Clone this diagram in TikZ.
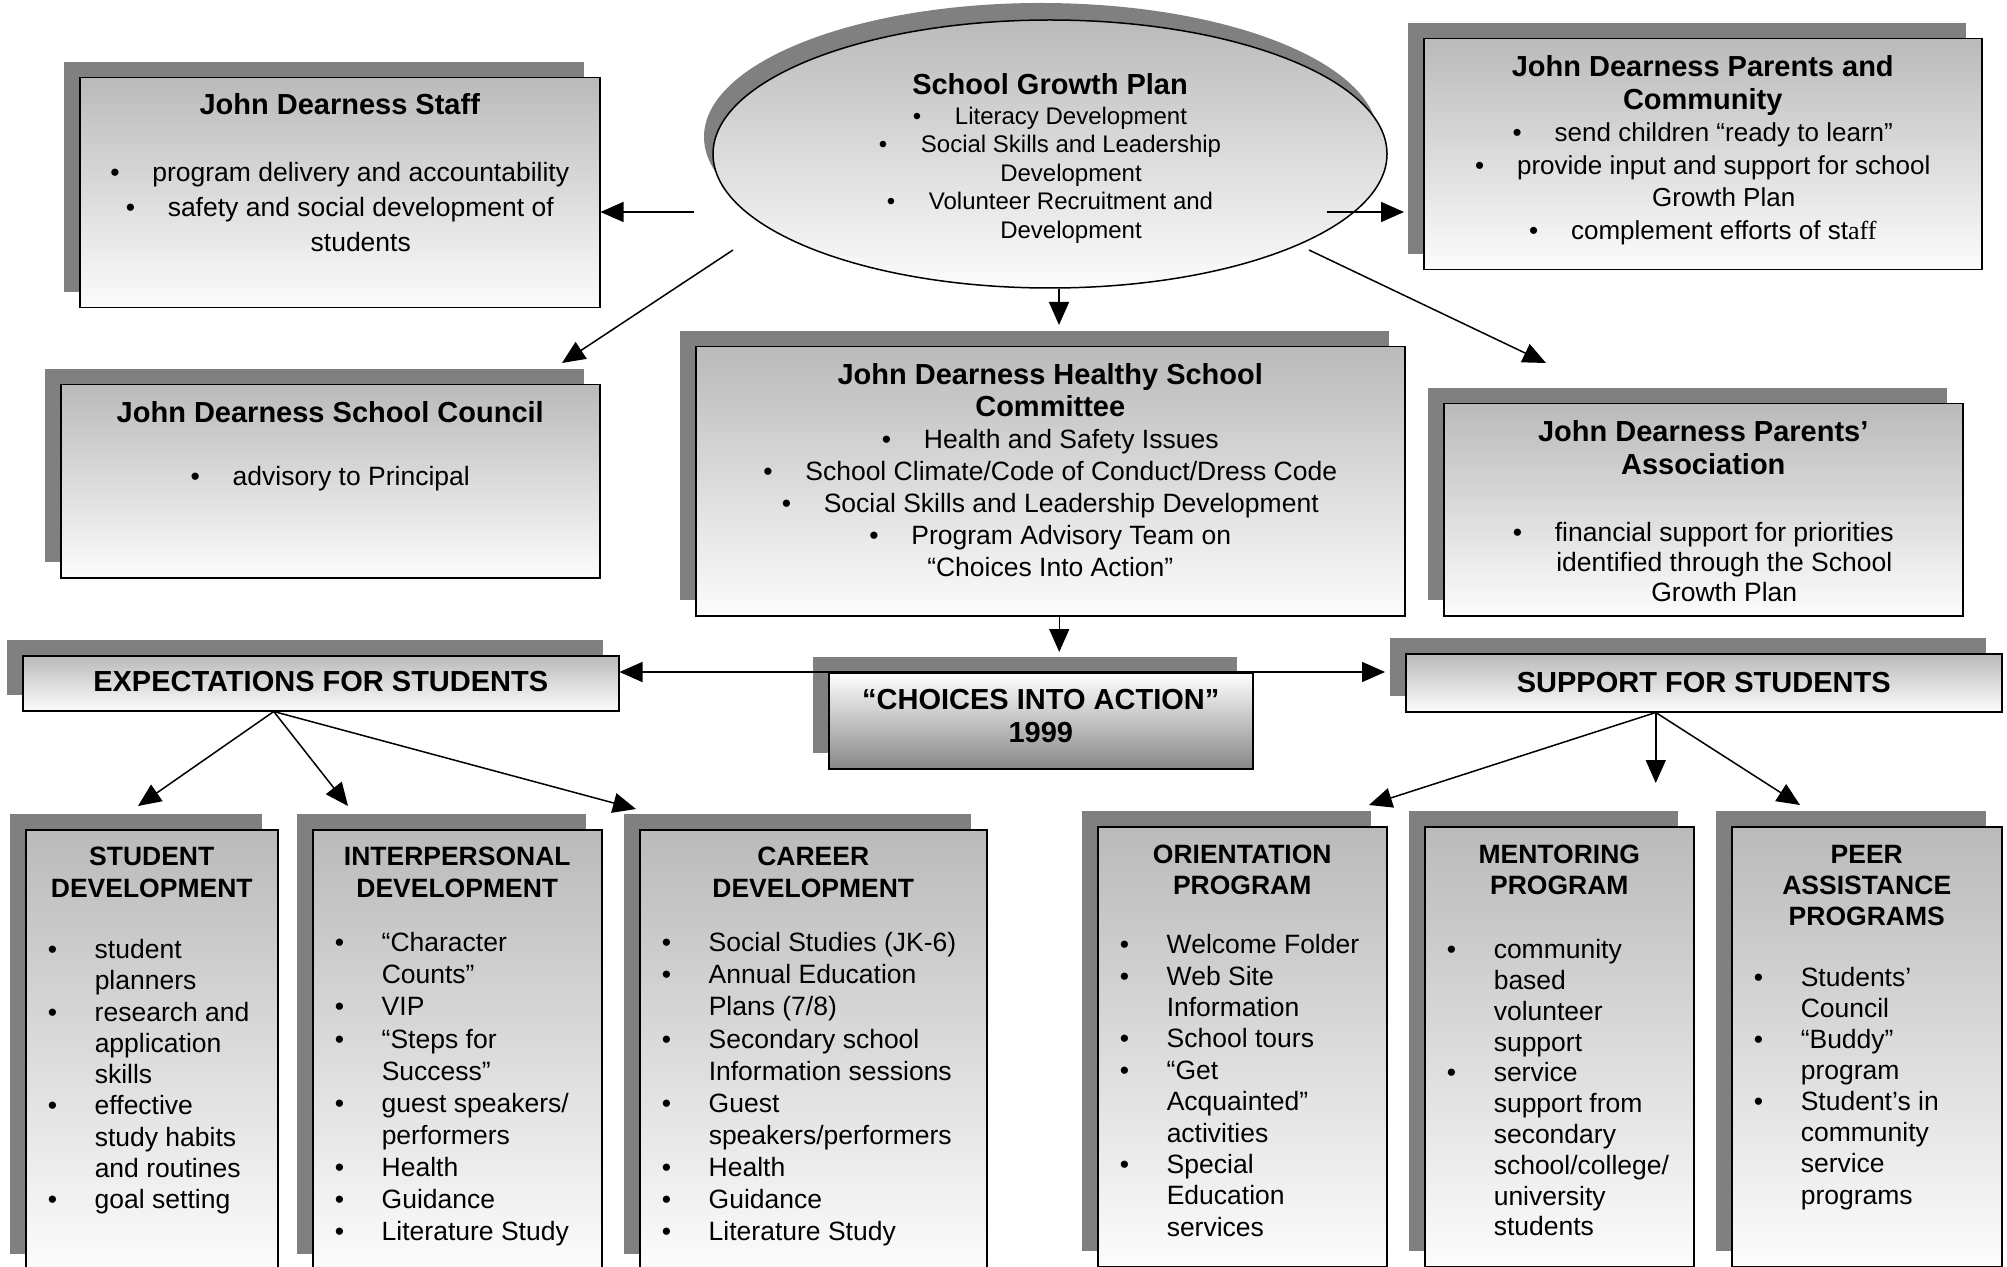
\documentclass[tikz,border=0pt]{standalone}
\usepackage{fontspec}
\setmainfont{Liberation Sans}
\newfontfamily\serifaff{Liberation Serif}
\usetikzlibrary{arrows.meta,shadows,shapes.geometric}
\definecolor{shadowgray}{RGB}{128,128,128}
\definecolor{boxtop}{RGB}{186,186,186}
\definecolor{boxbot}{RGB}{252,252,252}
\definecolor{ciabot}{RGB}{135,135,135}
\newcommand{\bul}{\makebox[21pt][l]{\textbullet}}
\newcommand{\cont}{\hspace*{21pt}}
\newcommand{\fs}[2]{\fontsize{#1}{#2}\selectfont}
\newcommand{\panelbody}[3]{\begin{minipage}[t][#2][t]{#1}\lineskip=0pt #3\end{minipage}}
\newcommand{\bitem}[1]{\par\noindent\hspace*{11pt}\makebox[23.5pt][l]{\textbullet}\begin{tabular}[t]{@{}l@{}}#1\end{tabular}\par}

\begin{document}
\begin{tikzpicture}[x=0.5pt, y=-0.5pt,
  panel/.style={draw=black, line width=0.75pt, inner sep=0pt, anchor=north west,
    top color=boxtop, bottom color=boxbot,
    general shadow={fill=shadowgray, shadow xshift=-8pt, shadow yshift=8pt}},
  ciapanel/.style={panel, top color=white, bottom color=ciabot},
  growth/.style={ellipse, draw=black, line width=0.75pt, inner sep=0pt,
    minimum width=337pt, minimum height=134pt, top color=boxtop, bottom color=boxbot,
    general shadow={fill=shadowgray, shadow xshift=-4.5pt, shadow yshift=8.5pt}},
  conn/.style={-{Triangle[length=11.5pt,width=10pt]}, line width=0.75pt}]
  \useasboundingbox (0,0) rectangle (2007,1267);

  \node[panel] (staff) at (79,77) {\panelbody{260pt}{115pt}{\centering\fs{13.25pt}{17.5pt}\vspace*{6.25pt}%
    {\fs{14.5pt}{17.5pt}\bfseries\strut John Dearness Staff}\\[16pt]
    \bul program delivery and accountability\\
    \bul safety and social development of\\
    \cont students\par}};

  \node[growth] (sgp) at (1050,154) {\panelbody{210pt}{90pt}{\centering\fs{12pt}{14.25pt}\vspace*{4.5pt}%
    {\fs{14.5pt}{14.25pt}\bfseries\strut School Growth Plan}\\[0.75pt]
    \bul Literacy Development\\
    \bul Social Skills and Leadership\\
    \cont Development\\
    \bul Volunteer Recruitment and\\
    \cont Development\par}};

  \node[panel] (pcom) at (1423,38) {\panelbody{279pt}{115.5pt}{\centering\fs{13pt}{16.25pt}\vspace*{7.6pt}%
    {\fs{14.5pt}{16.25pt}\bfseries\strut John Dearness Parents and\\Community}\\
    \bul send children “ready to learn”\\
    \bul provide input and support for school\\
    \cont Growth Plan\\
    \bul complement efforts of st{\serifaff aff}\par}};

  \node[panel] (council) at (60,384) {\panelbody{269.5pt}{96.5pt}{\centering\fs{13.25pt}{16.5pt}\vspace*{7.45pt}%
    {\fs{14.5pt}{16.5pt}\bfseries\strut John Dearness School Council}\\[15pt]
    \bul advisory to Principal\par}};

  \node[panel] (hsc) at (695,346) {\panelbody{354.5pt}{134.5pt}{\centering\fs{13.25pt}{16pt}\vspace*{7.8pt}%
    {\fs{14.5pt}{16pt}\bfseries\strut John Dearness Healthy School\\Committee}\\
    \bul Health and Safety Issues\\
    \bul School Climate/Code of Conduct/Dress Code\\
    \bul Social Skills and Leadership Development\\
    \bul Program Advisory Team on\\
    “Choices Into Action”\par}};

  \node[panel] (pa) at (1443,403) {\panelbody{259.5pt}{106pt}{\centering\fs{13.25pt}{15pt}\vspace*{8.5pt}%
    {\fs{14.5pt}{15pt}\bfseries\strut John Dearness Parents’\\[1.5pt]Association}\\[18.5pt]
    \bul financial support for priorities\\
    \cont identified through the School\\
    \cont Growth Plan\par}};

  \node[ciapanel] (cia) at (828,672) {\panelbody{212pt}{48pt}{\centering\fs{14.5pt}{16.5pt}\bfseries\vspace*{6.95pt}%
    \strut “CHOICES INTO ACTION”\\
    1999\par}};

  \node[panel] (exp) at (22,655) {\panelbody{298pt}{27.5pt}{\centering\fs{14.5pt}{16pt}\bfseries\vspace*{6.8pt}%
    \strut EXPECTATIONS FOR STUDENTS\par}};

  \node[panel] (sup) at (1405,653) {\panelbody{298pt}{29pt}{\centering\fs{14.5pt}{16pt}\bfseries\vspace*{8.3pt}%
    \strut SUPPORT FOR STUDENTS\par}};

  \node[panel] (sd) at (25,829) {\panelbody{126pt}{220pt}{\vspace*{6.55pt}%
    {\centering\fs{13.25pt}{16pt}\bfseries\strut STUDENT\\DEVELOPMENT\par}\vspace{15.1pt}
    \fs{13.25pt}{15.625pt}
    \bitem{student\\planners}
    \bitem{research and\\application\\skills}
    \bitem{effective\\study habits\\and routines}
    \bitem{goal setting}}};

  \node[panel] (ipd) at (312,829) {\panelbody{144.5pt}{220pt}{\vspace*{6.55pt}%
    {\centering\fs{13.25pt}{16pt}\bfseries\strut INTERPERSONAL\\DEVELOPMENT\par}\vspace{11.2pt}
    \fs{13.25pt}{16.05pt}
    \bitem{“Character\\Counts”}
    \bitem{VIP}
    \bitem{“Steps for\\Success”}
    \bitem{guest speakers/\\performers}
    \bitem{Health}
    \bitem{Guidance}
    \bitem{Literature Study}}};

  \node[panel] (cd) at (639,829) {\panelbody{173.5pt}{220pt}{\vspace*{6.55pt}%
    {\centering\fs{13.25pt}{16pt}\bfseries\strut CAREER\\DEVELOPMENT\par}\vspace{11.2pt}
    \fs{13.25pt}{16.05pt}
    \bitem{Social Studies (JK-6)}
    \bitem{Annual Education\\Plans (7/8)}
    \bitem{Secondary school\\Information sessions}
    \bitem{Guest\\speakers/performers}
    \bitem{Health}
    \bitem{Guidance}
    \bitem{Literature Study}}};

  \node[panel] (ori) at (1097,826) {\panelbody{144.5pt}{220pt}{\vspace*{7.4pt}%
    {\centering\fs{13.25pt}{15.5pt}\bfseries\strut ORIENTATION\\PROGRAM\par}\vspace{14pt}
    \fs{13.25pt}{15.7pt}
    \bitem{Welcome Folder}
    \bitem{Web Site\\Information}
    \bitem{School tours}
    \bitem{“Get\\Acquainted”\\activities}
    \bitem{Special\\Education\\services}}};

  \node[panel] (men) at (1424,826) {\panelbody{134.5pt}{220pt}{\vspace*{7.4pt}%
    {\centering\fs{13.25pt}{15.5pt}\bfseries\strut MENTORING\\PROGRAM\par}\vspace{16.85pt}
    \fs{13.25pt}{15.4pt}
    \bitem{community\\based\\volunteer\\support}
    \bitem{service\\support from\\secondary\\school/college/\\university\\students}}};

  \node[panel] (peer) at (1731,826) {\panelbody{135pt}{220pt}{\vspace*{7.4pt}%
    {\centering\fs{13.25pt}{15.5pt}\bfseries\strut PEER\\ASSISTANCE\\PROGRAMS\par}\vspace{15pt}
    \fs{13.25pt}{15.55pt}
    \bitem{Students’\\Council}
    \bitem{“Buddy”\\program}
    \bitem{Student’s in\\community\\service\\programs}}};

  \coordinate (sgpW) at (694,212);
  \coordinate (sgpE) at (1327,212);
  \coordinate (sgpSW) at (733,250);
  \coordinate (sgpSE) at (1309,250);
  \coordinate (tipCouncil) at (562,363);
  \coordinate (tipPA) at (1546,363);
  \coordinate (sgpS) at ([xshift=4.5pt]sgp.south);
  \coordinate (hscS) at ([xshift=4.5pt]hsc.south);
  \coordinate (expS) at ([xshift=-23.5pt]exp.south);
  \coordinate (supS) at ([xshift=-24pt]sup.south);
  \coordinate (tipSD) at (138,806);
  \coordinate (tipIPD) at (348,806);
  \coordinate (tipCD) at (636,809);
  \coordinate (tipORI) at (1369,805);
  \coordinate (tipMEN) at (1655,783);
  \coordinate (tipPEER) at (1800,805);

  \draw[conn] (sgpW) -- (sgpW -| staff.east);
  \draw[conn, shorten >=9.5pt] (sgpE) -- (sgpE -| pcom.west);
  \draw[conn] (sgpSW) -- (tipCouncil);
  \draw[conn] (sgpSE) -- (tipPA);
  \draw[conn, shorten >=10.5pt] (sgpS) -- (sgpS |- hsc.north);
  \draw[conn, shorten >=10pt] (hscS) -- (hscS |- cia.north);
  \draw[{Triangle[length=11.5pt,width=10pt]}-{Triangle[length=11.5pt,width=10pt]}, line width=0.75pt, shorten >=10pt]
    (exp.east |- cia.north) -- (sup.west |- cia.north);
  \draw[conn] (expS) -- (tipSD);
  \draw[conn] (expS) -- (tipIPD);
  \draw[conn] (expS) -- (tipCD);
  \draw[conn] (supS) -- (tipORI);
  \draw[conn] (supS) -- (supS |- tipMEN);
  \draw[conn] (supS) -- (tipPEER);
\end{tikzpicture}
\end{document}
